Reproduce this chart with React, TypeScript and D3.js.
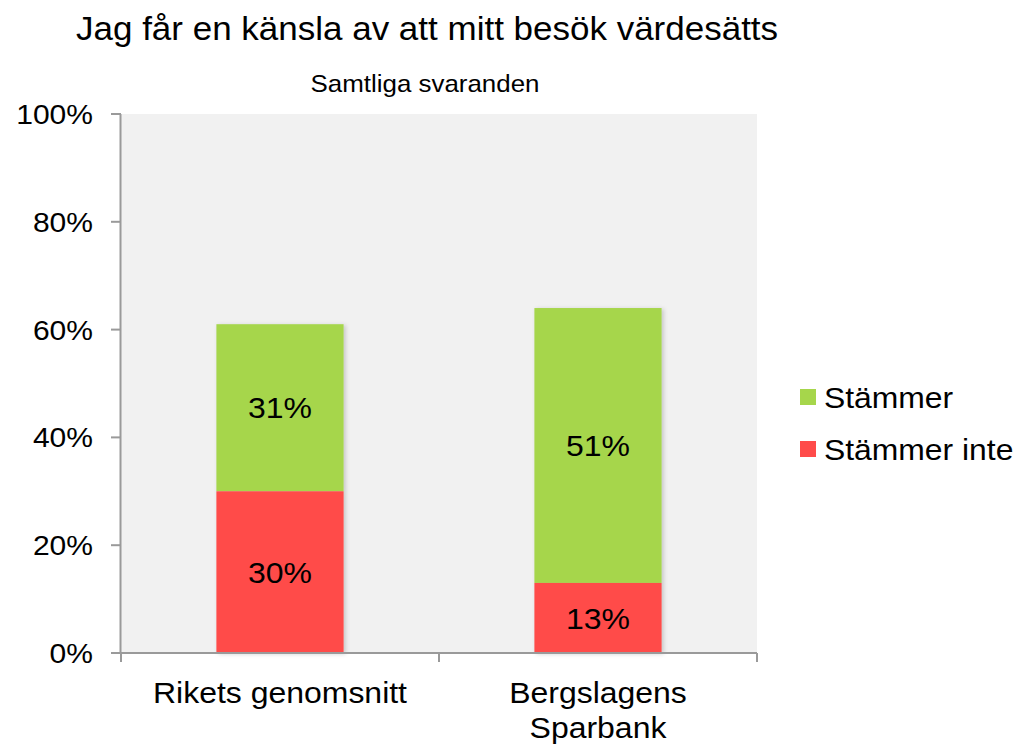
import React from "react";
import * as d3 from "d3";

// Jag får en känsla av att mitt besök värdesätts – stacked share per group

const categories = ["Rikets genomsnitt", "Bergslagens Sparbank"];
const categoryLines = [["Rikets genomsnitt"], ["Bergslagens", "Sparbank"]];
const stammerInte = [30, 13];
const stammer = [31, 51];
const yTicks = [0, 20, 40, 60, 80, 100];

const width = 1017;
const height = 745;
const plot = { left: 121, right: 757, top: 114, bottom: 653 };
const font = "'Liberation Sans', Arial, sans-serif";
const green = "#A6D64B";
const red = "#FF4B4A";
const stretch = 1.08;

// text with the slight horizontal stretch of the original
const T = ({ x, y, size, anchor = "middle", dy = "0", children }: any) => (
  <g transform={`translate(${x},${y}) scale(${stretch},1)`}>
    <text x={0} y={0} dy={dy} textAnchor={anchor} fontFamily={font} fontSize={size} fill="#000">
      {children}
    </text>
  </g>
);

const App = () => {
  const x = d3.scaleBand<string>()
    .domain(categories)
    .range([plot.left, plot.right])
    .padding(0);

  const y = d3.scaleLinear()
    .domain([0, 100])
    .range([plot.bottom, plot.top]);

  const bw = x.bandwidth();
  const barW = bw * 0.4;

  return (
    <svg width={width} height={height} style={{ display: "block", position: "absolute", left: 0, top: 0 }}>
      <defs>
        <filter id="shadow" x="-10%" y="-10%" width="130%" height="130%">
          <feDropShadow dx="2" dy="1" stdDeviation="2" floodColor="#000" floodOpacity="0.18" />
        </filter>
      </defs>
      <rect width={width} height={height} fill="#fff" />
      <T x={76} y={40} size={32.4} anchor="start">Jag får en känsla av att mitt besök värdesätts</T>
      <T x={425} y={92} size={24} >Samtliga svaranden</T>

      <rect x={plot.left} y={plot.top} width={plot.right - plot.left} height={plot.bottom - plot.top} fill="#F1F1F1" />

      {categories.map((c, i) => {
        const x0 = (x(c) ?? 0) + (bw - barW) / 2;
        const r0 = y(0), r1 = y(stammerInte[i]);
        const g1 = y(stammerInte[i] + stammer[i]);
        return (
          <g key={c}>
            <g filter="url(#shadow)">
              <rect x={x0} y={g1} width={barW} height={r1 - g1} fill={green} />
              <rect x={x0} y={r1} width={barW} height={r0 - r1} fill={red} />
            </g>
            <T x={x0 + barW / 2} y={(r0 + r1) / 2} dy="0.36em" size={29.6}>{stammerInte[i]}%</T>
            <T x={x0 + barW / 2} y={(r1 + g1) / 2} dy="0.36em" size={29.6}>{stammer[i]}%</T>
          </g>
        );
      })}

      {/* y axis */}
      <line x1={plot.left - 0.5} x2={plot.left - 0.5} y1={plot.top} y2={plot.bottom} stroke="#9a9a9a" strokeWidth={2} />
      {yTicks.map(t => (
        <g key={t}>
          <line x1={plot.left - 10} x2={plot.left} y1={y(t)} y2={y(t)} stroke="#9a9a9a" strokeWidth={2} />
          <T x={93} y={y(t)} dy="0.36em" size={27.8} anchor="end">{t}%</T>
        </g>
      ))}

      {/* x axis */}
      <line x1={plot.left - 10} x2={plot.right} y1={plot.bottom} y2={plot.bottom} stroke="#9a9a9a" strokeWidth={2} />
      {[...categories.map(c => x(c) ?? 0), plot.right].map((px, i) => (
        <line key={i} x1={px} x2={px} y1={plot.bottom} y2={plot.bottom + 9} stroke="#9a9a9a" strokeWidth={2} />
      ))}
      {categories.map((c, i) =>
        categoryLines[i].map((line, j) => (
          <T key={c + j} x={(x(c) ?? 0) + bw / 2} y={703 + j * 35} size={29.6}>{line}</T>
        ))
      )}

      {/* legend */}
      {[{ label: "Stämmer", color: green, yy: 389 }, { label: "Stämmer inte", color: red, yy: 441 }].map(d => (
        <g key={d.label}>
          <rect x={800} y={d.yy} width={16} height={16} fill={d.color} />
          <T x={824} y={d.yy + 8} dy="0.36em" size={29.5} anchor="start">{d.label}</T>
        </g>
      ))}
    </svg>
  );
};

export default App;
